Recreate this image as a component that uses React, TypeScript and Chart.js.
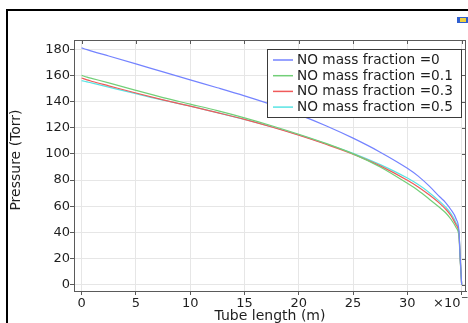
import React, { useEffect, useRef } from "react";
import { Chart, registerables } from "chart.js";

Chart.register(...registerables);

// Tube length (×10^-3 m)
const tubeLength = [0, 0.5, 1, 2.5, 5, 7.5, 10, 12.5, 15, 17.5, 20, 22.5, 25, 27.5, 30, 31, 32, 33, 33.5, 34, 34.5, 34.75, 34.87, 35];

const pressureFrac0 = [181, 179.6, 178.3, 174.8, 168.8, 162.6, 156.5, 150.5, 144.3, 137.6, 130, 121.5, 112, 101.3, 89, 83, 75.5, 67, 63, 57.5, 50, 41, 20, 0];
const pressureFrac01 = [160, 158.6, 157.5, 154.2, 148.5, 143, 138, 133, 127.5, 121.5, 115, 108, 100, 90, 77.5, 72, 65.5, 58.8, 55.2, 50.2, 43.5, 37, 18, 0];
const pressureFrac03 = [158, 156.5, 155.3, 152, 146.5, 141.3, 136.5, 131.5, 126.3, 120.5, 114.2, 107.3, 99.8, 90.8, 79.8, 74.7, 68.7, 62, 58, 53, 45.5, 39, 19, 0];
const pressureFrac05 = [156, 155, 154, 151, 146, 141, 136.5, 131.5, 126.3, 120.7, 114.5, 107.7, 100.5, 91.8, 81.5, 76.5, 70.5, 63.5, 59.5, 54.5, 47, 40, 20, 0];

const seriesLabels = [
  "NO mass fraction =0",
  "NO mass fraction =0.1",
  "NO mass fraction =0.3",
  "NO mass fraction =0.5",
];
const seriesColors = ["#7483ff", "#72cf78", "#f05a5a", "#58e4e4"];

const xTicks = [0, 5, 10, 15, 20, 25, 30, 35];
const yTicks = [0, 20, 40, 60, 80, 100, 120, 140, 160, 180];

const FONT = "'DejaVu Sans', sans-serif";
const TEXT = "#1e1e1e";

const framePlugin = {
  id: "frame",
  afterDatasetsDraw(chart: any) {
    const ctx = chart.ctx;
    const { left, right, top, bottom } = chart.chartArea;
    const xs = chart.scales.x;
    const ys = chart.scales.y;
    ctx.save();
    // frame
    ctx.strokeStyle = "#5a5a5a";
    ctx.lineWidth = 1;
    ctx.beginPath();
    ctx.moveTo(left, top + 0.5);
    ctx.lineTo(right, top + 0.5);
    ctx.moveTo(right - 0.5, top);
    ctx.lineTo(right - 0.5, bottom);
    ctx.stroke();
    // inward ticks on top / right
    ctx.beginPath();
    xTicks.forEach((v) => {
      const px = Math.round(xs.getPixelForValue(v)) + 0.5;
      ctx.moveTo(px, top);
      ctx.lineTo(px, top + 4);
    });
    yTicks.forEach((v) => {
      const py = Math.round(ys.getPixelForValue(v)) + 0.5;
      ctx.moveTo(right, py);
      ctx.lineTo(right - 4, py);
    });
    ctx.stroke();

    // legend
    const lx = 267, ly = 49, lw = 194, lh = 68;
    ctx.fillStyle = "#ffffff";
    ctx.fillRect(lx, ly, lw, lh);
    ctx.strokeStyle = "#3a3a3a";
    ctx.strokeRect(lx + 0.5, ly + 0.5, lw, lh);
    ctx.font = `13.7px ${FONT}`;
    ctx.textBaseline = "middle";
    ctx.textAlign = "left";
    chart.data.datasets.forEach((ds: any, i: number) => {
      const cy = 60 + i * 15.7;
      ctx.strokeStyle = ds.borderColor;
      ctx.lineWidth = 1.5;
      ctx.beginPath();
      ctx.moveTo(273, cy);
      ctx.lineTo(293, cy);
      ctx.stroke();
      ctx.fillStyle = TEXT;
      ctx.fillText(ds.label, 297, cy + 0.5);
    });

    // exponent label
    ctx.fillStyle = TEXT;
    ctx.font = `13px ${FONT}`;
    ctx.textBaseline = "middle";
    ctx.fillText("×10", 433, 304);
    ctx.font = `9px ${FONT}`;
    ctx.fillText("−3", 461, 298);

    // y title
    ctx.translate(16, 160);
    ctx.rotate(-Math.PI / 2);
    ctx.font = `14px ${FONT}`;
    ctx.textAlign = "center";
    ctx.textBaseline = "middle";
    ctx.fillText("Pressure (Torr)", 0, 0);
    ctx.restore();
  },
};

export default function App() {
  const ref = useRef<HTMLCanvasElement>(null);

  useEffect(() => {
    if (!ref.current) return;
    const series = [pressureFrac0, pressureFrac01, pressureFrac03, pressureFrac05];
    const chart = new Chart(ref.current, {
      type: "line",
      data: {
        datasets: series.map((vals, i) => ({
          label: seriesLabels[i],
          data: tubeLength.map((x, j) => ({ x, y: vals[j] })),
          borderColor: seriesColors[i],
          borderWidth: 1.2,
          pointRadius: 0,
          fill: false,
          cubicInterpolationMode: "monotone" as const,
        })),
      },
      options: {
        animation: false,
        responsive: false,
        devicePixelRatio: 1,
        layout: { padding: { left: 0, right: 2, top: 40, bottom: 0 } },
        plugins: { legend: { display: false }, tooltip: { enabled: false } },
        scales: {
          x: {
            type: "linear",
            min: -0.7,
            max: 35.4,
            afterBuildTicks: (s: any) => {
              s.ticks = xTicks.map((v) => ({ value: v }));
            },
            afterFit: (s: any) => {
              s.height = 32;
            },
            ticks: {
              autoSkip: false,
              maxRotation: 0,
              padding: 1,
              color: TEXT,
              font: { family: FONT, size: 13 },
              callback: (v: any) => (v === 35 ? "" : String(v)),
            },
            grid: { color: "#e6e6e6", tickLength: 4, tickColor: "#5a5a5a" },
            border: { color: "#5a5a5a", width: 1 },
            title: {
              display: true,
              text: "Tube length (m)",
              color: TEXT,
              font: { family: FONT, size: 14, lineHeight: 1 },
              padding: 0,
            },
          },
          y: {
            type: "linear",
            min: -4.8,
            max: 187,
            afterBuildTicks: (s: any) => {
              s.ticks = yTicks.map((v) => ({ value: v }));
            },
            afterFit: (s: any) => {
              s.width = 74;
            },
            ticks: {
              padding: 0,
              color: TEXT,
              font: { family: FONT, size: 13 },
            },
            grid: { color: "#e6e6e6", tickLength: 4, tickColor: "#5a5a5a" },
            border: { color: "#5a5a5a", width: 1 },
          },
        },
      },
      plugins: [framePlugin],
    });
    return () => chart.destroy();
  }, []);

  return (
    <div style={{ position: "fixed", left: 0, top: 0, width: 468, height: 323, background: "#fff", overflow: "hidden" }}>
      <canvas ref={ref} width={468} height={323} style={{ display: "block", position: "absolute", left: 0, top: 0 }} />
      <div style={{ position: "absolute", left: 6, top: 9, width: 470, height: 320, borderLeft: "2px solid #000", borderTop: "2px solid #000", pointerEvents: "none" }} />
      <div style={{ position: "absolute", left: 457, top: 17, width: 11, height: 6, background: "#2f5fd0" }}>
        <div style={{ position: "absolute", left: 3, top: 1, width: 6, height: 4, background: "#f0d040" }} />
      </div>
    </div>
  );
}
